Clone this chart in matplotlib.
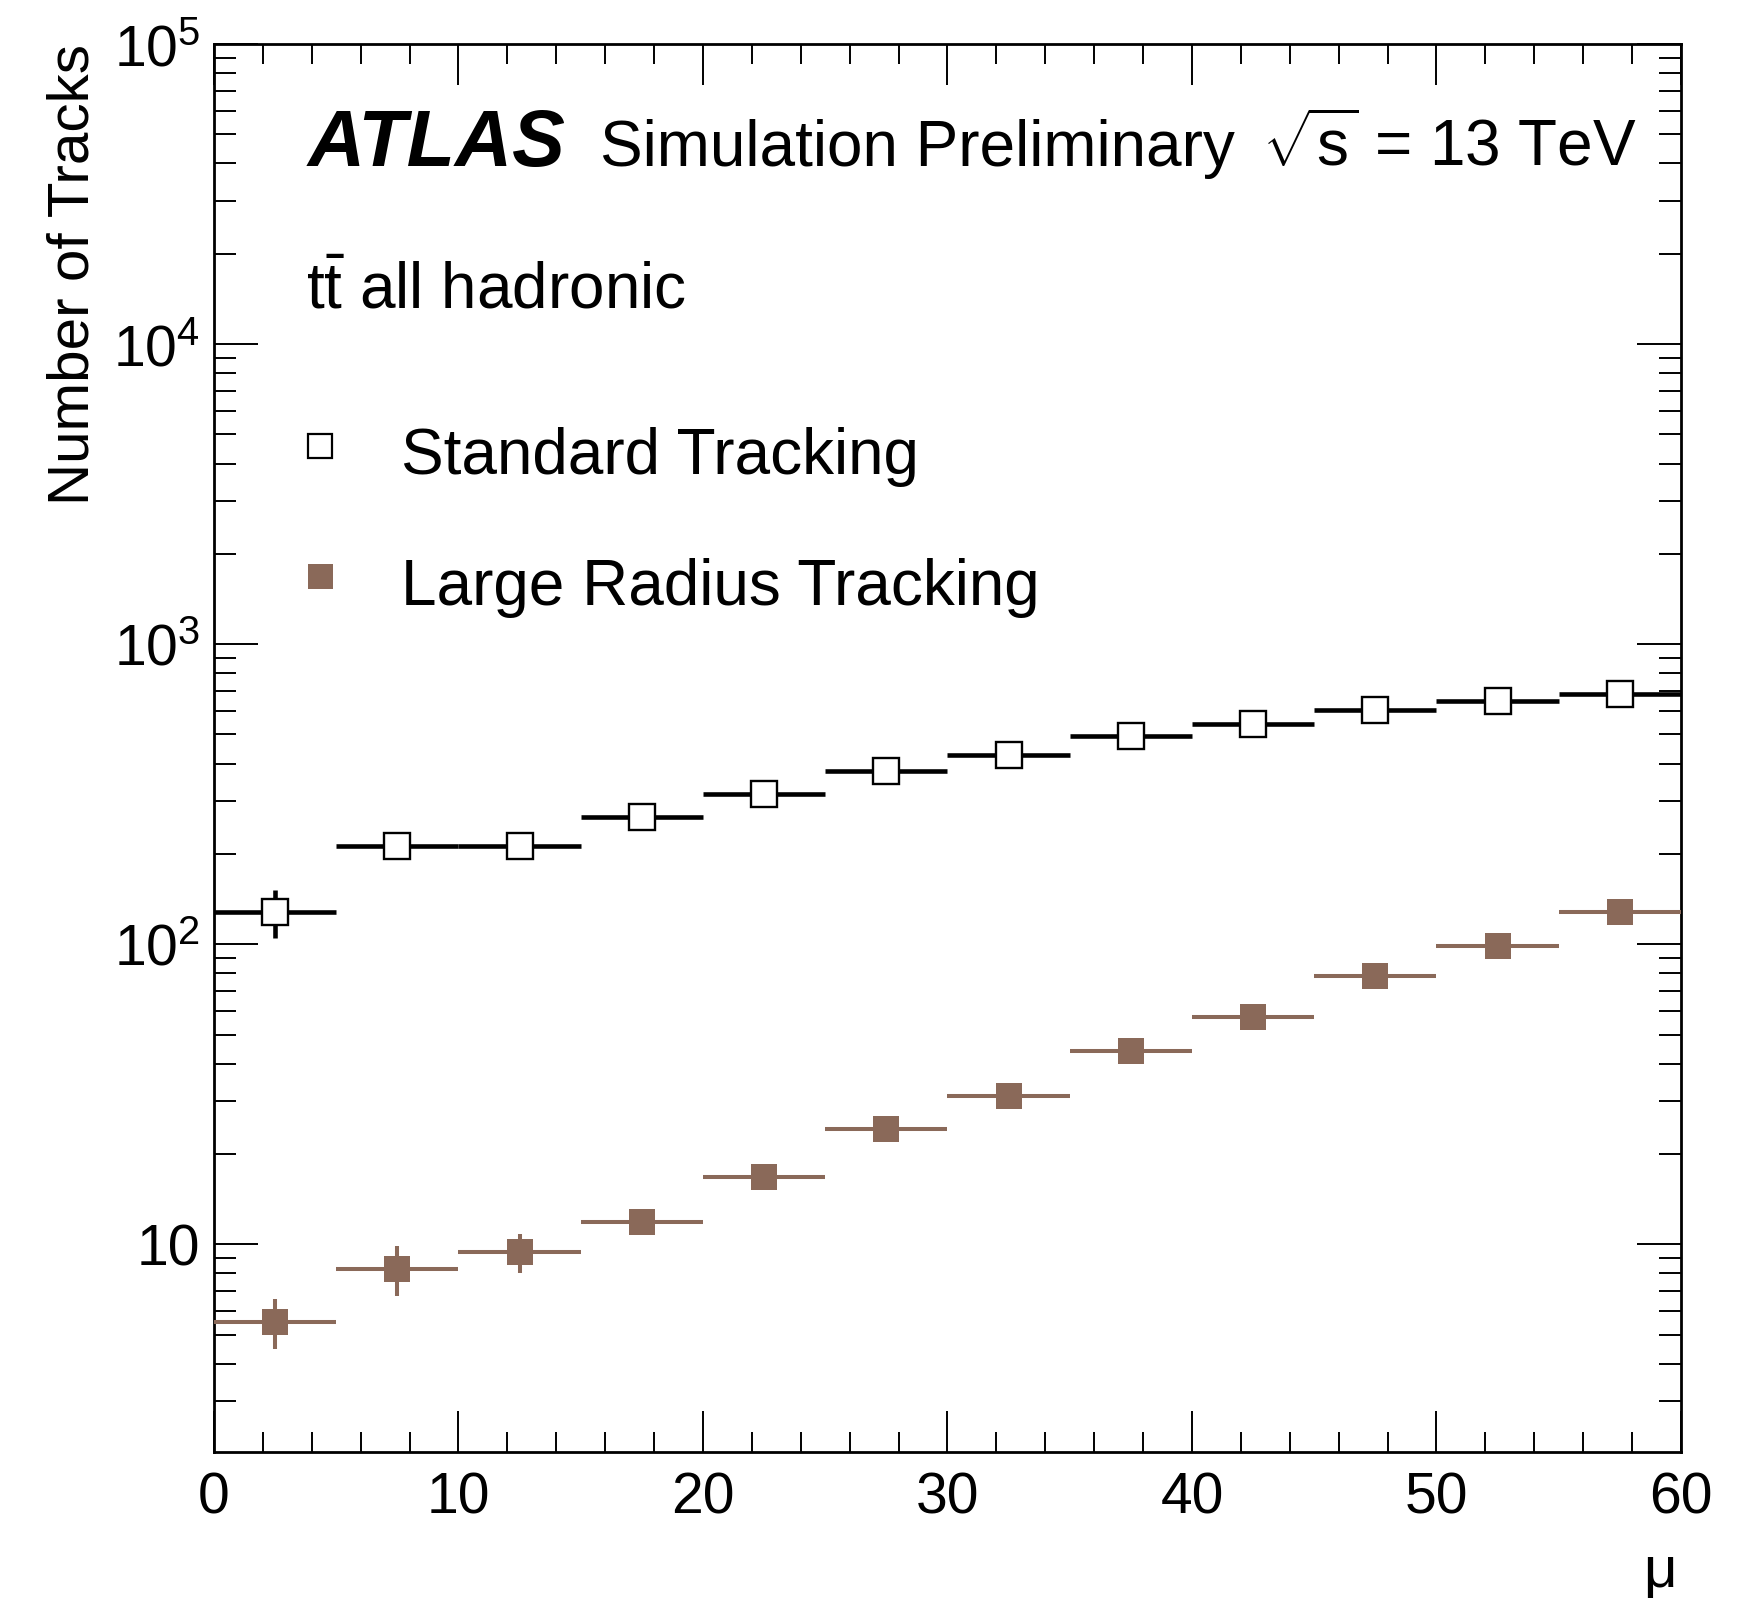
import matplotlib
matplotlib.use('Agg')
import matplotlib.pyplot as plt
import matplotlib.ticker as ticker
import numpy as np

# Datos (pile-up mu, número de trazas)
mu_centers = [2.5, 7.5, 12.5, 17.5, 22.5, 27.5, 32.5, 37.5, 42.5, 47.5, 52.5, 57.5]
mu_halfwidth = [2.5, 2.5, 2.5, 2.5, 2.5, 2.5, 2.5, 2.5, 2.5, 2.5, 2.5, 2.5]

std_tracks = [128, 212, 212, 265, 317, 379, 426, 496, 542, 605, 647, 682]
std_err = [23.5, 12, 12, 13, 14, 15, 16, 17, 18, 19, 20, 21]

lrt_tracks = [5.51, 8.30, 9.42, 11.9, 16.7, 24.3, 31.1, 44.0, 57.1, 78.3, 98.7, 128.5]
lrt_err = [1.04, 1.6, 1.4, 0.9, 1.1, 1.3, 1.5, 1.7, 2.0, 2.3, 2.6, 3.0]

y_ticks = [10, 100, 1000, 10000, 100000]

# Estilo tipo ATLAS
plt.rcParams['font.family'] = ['Liberation Sans', 'DejaVu Sans']
plt.rcParams['mathtext.fontset'] = 'custom'
plt.rcParams['mathtext.rm'] = 'Liberation Sans'
plt.rcParams['mathtext.it'] = 'Liberation Sans:italic'
plt.rcParams['mathtext.bf'] = 'Liberation Sans:bold'

brown = '#8a6959'


def log_label(v, pos):
    if v <= 0:
        return ''
    n = int(round(np.log10(v)))
    if n == 1:
        return '10'
    return r'$\mathrm{10^{%d}}$' % n


def generate_graph():
    fig = plt.figure(figsize=(17.38, 16.02), dpi=100)
    ax = fig.add_axes([0.1231, 0.0936, 0.8441, 0.8789])

    # Standard Tracking (cuadrado abierto)
    ax.errorbar(mu_centers, std_tracks, xerr=mu_halfwidth, yerr=std_err,
                fmt='s', ms=18.5, mfc='white', mec='black', mew=1.7,
                ecolor='black', elinewidth=3.3, capsize=0, zorder=3)

    # Large Radius Tracking (cuadrado lleno)
    ax.errorbar(mu_centers, lrt_tracks, xerr=mu_halfwidth, yerr=lrt_err,
                fmt='s', ms=19, mfc=brown, mec=brown, mew=0,
                ecolor=brown, elinewidth=2.9, capsize=0, zorder=3)

    ax.set_yscale('log')
    ax.set_xlim(0, 60)
    ax.set_ylim(2.03, 1e5)

    ax.xaxis.set_major_locator(ticker.MultipleLocator(10))
    ax.xaxis.set_minor_locator(ticker.MultipleLocator(2))
    ax.yaxis.set_major_locator(ticker.FixedLocator(y_ticks))
    ax.yaxis.set_minor_locator(ticker.LogLocator(base=10, subs=np.arange(2, 10)))
    ax.yaxis.set_major_formatter(ticker.FuncFormatter(log_label))
    ax.yaxis.set_minor_formatter(ticker.NullFormatter())

    ax.tick_params(which='both', direction='in', top=True, right=True, width=1.4)
    ax.tick_params(axis='x', which='major', length=29.5, labelsize=41, pad=14)
    ax.tick_params(axis='x', which='minor', length=14.4)
    ax.tick_params(axis='y', which='major', length=31.7, labelsize=41, pad=10)
    ax.tick_params(axis='y', which='minor', length=15.8)
    for sp in ax.spines.values():
        sp.set_linewidth(2.0)

    ax.set_ylabel('Number of Tracks', fontsize=42, loc='top')
    ax.yaxis.set_label_coords(-0.077, 1.0)
    ax.set_xlabel('μ', fontsize=42, loc='right')
    ax.xaxis.set_label_coords(0.997, -0.066)

    # Etiquetas
    ax.text(0.0641, 0.9134, 'ATLAS', transform=ax.transAxes, fontsize=57,
            fontweight='bold', fontstyle='italic', va='baseline', ha='left')
    ax.text(0.2631, 0.9134, 'Simulation Preliminary', transform=ax.transAxes,
            fontsize=46, va='baseline', ha='left')
    ax.text(0.970, 0.9134, r'$\sqrt{\mathrm{s}}$ = 13 TeV', transform=ax.transAxes,
            fontsize=46, va='baseline', ha='right')
    ax.text(0.0627, 0.8125, r'$\mathrm{t\bar{t}}$ all hadronic', transform=ax.transAxes,
            fontsize=46, va='baseline', ha='left')

    # Leyenda manual
    ax.plot([0.0723], [0.7145], 's', ms=17.5, mfc='white', mec='black', mew=1.6,
            transform=ax.transAxes, clip_on=False)
    ax.text(0.1275, 0.6946, 'Standard Tracking', transform=ax.transAxes,
            fontsize=46, va='baseline', ha='left')
    ax.plot([0.0723], [0.6222], 's', ms=18, mfc=brown, mec=brown, mew=0,
            transform=ax.transAxes, clip_on=False)
    ax.text(0.1275, 0.6016, 'Large Radius Tracking', transform=ax.transAxes,
            fontsize=46, va='baseline', ha='left')

    fig.savefig('out.png', dpi=100)


if __name__ == "__main__":
    generate_graph()
